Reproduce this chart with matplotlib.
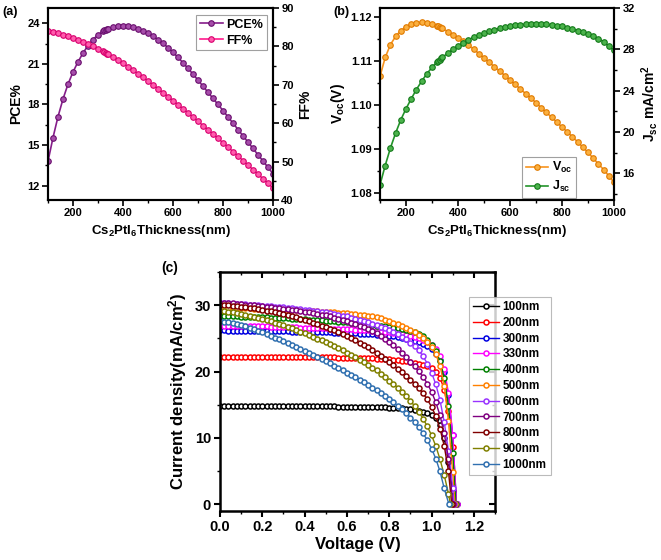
import numpy as np
import matplotlib
matplotlib.use("Agg")
import matplotlib.pyplot as plt
from matplotlib.ticker import MultipleLocator

plt.rcParams['font.family'] = ['Liberation Sans', 'DejaVu Sans']
plt.rcParams['font.weight'] = 'bold'
plt.rcParams['axes.labelweight'] = 'bold'
plt.rcParams['mathtext.fontset'] = 'custom'
plt.rcParams['mathtext.rm'] = 'Liberation Sans:bold'
plt.rcParams['mathtext.bf'] = 'Liberation Sans:bold'
plt.rcParams['mathtext.it'] = 'Liberation Sans:bold'

# ---------------- data: panels (a) and (b) ----------------
thickness = list(range(100, 321, 20)) + [325, 330, 335] + list(range(340, 1001, 20))

pce = [13.80, 15.55, 17.10, 18.40, 19.50, 20.40, 21.15, 21.80, 22.35, 22.80, 23.15, 23.42,
       23.47, 23.52, 23.56,
       23.60, 23.72, 23.80, 23.82, 23.79, 23.72, 23.60, 23.45, 23.27, 23.05, 22.80, 22.52,
       22.20, 21.85, 21.48, 21.08, 20.67, 20.24, 19.80, 19.35, 18.90, 18.45, 18.00, 17.55,
       17.08, 16.62, 16.15, 15.68, 15.22, 14.75, 14.28, 13.82, 13.35, 12.88]

ff = [84.05, 83.75, 83.43, 83.08, 82.70, 82.30, 81.78, 81.22, 80.64, 80.04, 79.40, 78.70,
      78.52, 78.33, 78.15,
      77.96, 77.20, 76.42, 75.60, 74.72, 73.82, 72.90, 71.96, 71.00, 70.00, 68.99, 67.97,
      66.94, 65.90, 64.84, 63.77, 62.69, 61.60, 60.50, 59.40, 58.29, 57.17, 56.04, 54.90,
      53.76, 52.61, 51.45, 50.28, 49.10, 47.92, 46.73, 45.53, 44.32, 43.10]

voc = [1.1065, 1.1108, 1.1137, 1.1156, 1.1169, 1.1178, 1.1184, 1.1187, 1.1188, 1.1187, 1.1184, 1.1180,
       1.1179, 1.1177, 1.1176,
       1.1174, 1.1167, 1.1160, 1.1153, 1.1145, 1.1136, 1.1127, 1.1117, 1.1107, 1.1097, 1.1087, 1.1077,
       1.1067, 1.1057, 1.1047, 1.1036, 1.1026, 1.1016, 1.1005, 1.0994, 1.0983, 1.0972, 1.0961, 1.0950,
       1.0939, 1.0928, 1.0916, 1.0904, 1.0892, 1.0879, 1.0866, 1.0853, 1.0839, 1.0824]

jsc = [14.87, 16.74, 18.43, 19.88, 21.17, 22.24, 23.20, 24.10, 24.90, 25.62, 26.25, 26.78,
       26.90, 27.01, 27.11,
       27.21, 27.62, 28.00, 28.34, 28.65, 28.92, 29.17, 29.39, 29.58, 29.75, 29.90, 30.03,
       30.14, 30.24, 30.32, 30.38, 30.42, 30.45, 30.46, 30.45, 30.42, 30.37, 30.30, 30.21,
       30.10, 29.97, 29.82, 29.65, 29.46, 29.24, 29.00, 28.74, 28.30, 27.90]

# ---------------- data: panel (c) J-V curves ----------------
jv_labels = ['100nm', '200nm', '300nm', '330nm', '400nm', '500nm',
             '600nm', '700nm', '800nm', '900nm', '1000nm']
jv_colors = ['#000000', '#FF0000', '#0000E0', '#FF00FF', '#008000', '#FF8000',
             '#9933FF', '#800080', '#800000', '#808000', '#3070B0']
jv_voc = [1.1065, 1.118, 1.1183, 1.118, 1.1155, 1.1107, 1.1058, 1.1006, 1.0952, 1.0895, 1.0823]

# current density at V = 0.00, 0.02, 0.04, ... (last point of each curve is J = 0 at its Voc)
j_100 = [14.85, 14.85, 14.85, 14.84, 14.84, 14.84, 14.84, 14.83, 14.83, 14.83, 14.82, 14.82, 14.82,
         14.81, 14.81, 14.81, 14.80, 14.80, 14.80, 14.79, 14.79, 14.78, 14.78, 14.77, 14.77, 14.76,
         14.76, 14.75, 14.74, 14.74, 14.73, 14.72, 14.71, 14.70, 14.69, 14.68, 14.66, 14.65, 14.63,
         14.61, 14.58, 14.55, 14.51, 14.47, 14.41, 14.34, 14.25, 14.13, 13.97, 13.75, 13.45, 12.95,
         12.00, 10.00, 6.40, 2.00]
j_200 = [22.25, 22.25, 22.25, 22.25, 22.24, 22.24, 22.24, 22.24, 22.23, 22.23, 22.23, 22.23, 22.22,
         22.22, 22.22, 22.21, 22.21, 22.20, 22.20, 22.19, 22.19, 22.18, 22.17, 22.17, 22.16, 22.15,
         22.14, 22.13, 22.12, 22.11, 22.10, 22.08, 22.07, 22.05, 22.03, 22.01, 21.98, 21.95, 21.92,
         21.88, 21.84, 21.79, 21.73, 21.66, 21.58, 21.48, 21.36, 21.21, 21.03, 20.80, 20.50, 20.00,
         19.10, 17.30, 14.00, 8.60]
j_300 = [26.20, 26.19, 26.18, 26.17, 26.16, 26.15, 26.14, 26.13, 26.12, 26.11, 26.10, 26.09, 26.08,
         26.07, 26.06, 26.05, 26.04, 26.03, 26.02, 26.00, 25.99, 25.98, 25.96, 25.95, 25.93, 25.92,
         25.90, 25.88, 25.86, 25.84, 25.82, 25.79, 25.76, 25.73, 25.70, 25.66, 25.62, 25.57, 25.52,
         25.46, 25.39, 25.31, 25.22, 25.11, 24.98, 24.83, 24.65, 24.43, 24.16, 23.82, 23.35, 22.70,
         21.70, 19.90, 16.50, 10.40]
j_330 = [26.95, 26.94, 26.93, 26.92, 26.91, 26.90, 26.88, 26.87, 26.85, 26.84, 26.82, 26.80, 26.78,
         26.76, 26.74, 26.72, 26.70, 26.68, 26.66, 26.64, 26.62, 26.60, 26.58, 26.55, 26.53, 26.50,
         26.48, 26.45, 26.43, 26.40, 26.37, 26.34, 26.31, 26.27, 26.23, 26.19, 26.14, 26.09, 26.03,
         25.97, 25.90, 25.82, 25.73, 25.63, 25.51, 25.37, 25.20, 24.99, 24.74, 24.43, 24.05, 23.40,
         22.30, 20.40, 16.80, 10.50]
j_400 = [28.35, 28.34, 28.33, 28.31, 28.30, 28.28, 28.26, 28.24, 28.22, 28.20, 28.18, 28.15, 28.13,
         28.10, 28.07, 28.04, 28.01, 27.98, 27.94, 27.91, 27.87, 27.83, 27.79, 27.75, 27.70, 27.65,
         27.60, 27.55, 27.50, 27.45, 27.40, 27.34, 27.28, 27.22, 27.15, 27.08, 27.01, 26.94, 26.87,
         26.80, 26.72, 26.63, 26.53, 26.42, 26.30, 26.15, 25.95, 25.70, 25.30, 24.75, 24.05, 23.10,
         21.60, 19.10, 14.80, 7.80]
j_500 = [29.65, 29.63, 29.61, 29.59, 29.57, 29.55, 29.53, 29.51, 29.49, 29.47, 29.45, 29.43, 29.41,
         29.38, 29.36, 29.33, 29.30, 29.27, 29.24, 29.21, 29.18, 29.15, 29.12, 29.08, 29.04, 29.00,
         28.96, 28.92, 28.88, 28.83, 28.78, 28.72, 28.65, 28.58, 28.50, 28.42, 28.30, 28.17, 28.02,
         27.82, 27.60, 27.36, 27.10, 26.84, 26.58, 26.30, 25.95, 25.57, 25.10, 24.50, 23.70, 22.60,
         20.90, 17.90, 12.50, 4.80]
j_600 = [30.35, 30.32, 30.28, 30.24, 30.20, 30.16, 30.12, 30.08, 30.04, 30.00, 29.95, 29.90, 29.85,
         29.79, 29.73, 29.67, 29.61, 29.55, 29.49, 29.42, 29.35, 29.27, 29.18, 29.09, 29.00, 28.90,
         28.79, 28.68, 28.56, 28.43, 28.30, 28.14, 27.97, 27.79, 27.60, 27.40, 27.19, 26.97, 26.74,
         26.51, 26.27, 25.98, 25.65, 25.28, 24.86, 24.38, 23.83, 23.20, 22.30, 21.20, 19.85, 18.10,
         15.70, 12.40, 8.10, 2.50]
j_700 = [30.40, 30.36, 30.31, 30.26, 30.21, 30.15, 30.09, 30.03, 29.97, 29.91, 29.85, 29.78, 29.71,
         29.64, 29.57, 29.50, 29.42, 29.33, 29.24, 29.15, 29.05, 28.94, 28.82, 28.70, 28.58, 28.45,
         28.30, 28.14, 27.97, 27.79, 27.60, 27.39, 27.17, 26.93, 26.67, 26.39, 26.08, 25.74, 25.37,
         24.96, 24.50, 23.98, 23.41, 22.80, 22.16, 21.48, 20.77, 20.03, 19.20, 18.20, 16.95, 15.40,
         13.40, 10.70, 6.90]
j_800 = [30.10, 30.05, 30.00, 29.94, 29.87, 29.80, 29.72, 29.63, 29.54, 29.43, 29.32, 29.20, 29.07,
         28.94, 28.80, 28.65, 28.50, 28.34, 28.17, 27.99, 27.80, 27.60, 27.39, 27.17, 26.94, 26.70,
         26.45, 26.19, 25.92, 25.64, 25.35, 25.04, 24.72, 24.38, 24.02, 23.64, 23.24, 22.82, 22.38,
         21.92, 21.44, 20.93, 20.39, 19.95, 19.40, 18.80, 18.20, 17.50, 16.70, 15.80, 14.70, 13.30,
         11.40, 8.80, 5.00]
j_900 = [29.20, 29.12, 29.03, 28.93, 28.82, 28.70, 28.57, 28.43, 28.28, 28.12, 27.95, 27.77, 27.58,
         27.38, 27.17, 26.95, 26.73, 26.50, 26.26, 26.02, 25.77, 25.51, 25.25, 24.98, 24.70, 24.42,
         24.13, 23.83, 23.52, 23.20, 22.87, 22.53, 22.18, 21.81, 21.43, 21.03, 20.61, 20.17, 19.70,
         19.20, 18.60, 18.12, 17.60, 17.00, 16.30, 15.60, 14.80, 13.90, 12.90, 11.75, 10.40, 8.80,
         6.80, 4.40, 1.60]
j_1000 = [27.60, 27.50, 27.40, 27.28, 27.14, 26.98, 26.80, 26.60, 26.38, 26.14, 25.90, 25.64, 25.38,
          25.11, 24.84, 24.56, 24.28, 24.00, 23.71, 23.42, 23.12, 22.82, 22.51, 22.20, 21.88, 21.56,
          21.23, 20.90, 20.56, 20.21, 19.86, 19.50, 19.13, 18.75, 18.36, 17.96, 17.60, 17.22, 16.82,
          16.38, 15.90, 15.38, 14.85, 14.30, 13.72, 13.08, 12.38, 11.60, 10.70, 9.65, 8.40, 6.90,
          4.95, 2.40]
jv_currents = [j_100, j_200, j_300, j_330, j_400, j_500, j_600, j_700, j_800, j_900, j_1000]
v_step = 0.02

# ---------------- figure ----------------
W, H = 661, 560
fig = plt.figure(figsize=(W / 100, H / 100), dpi=100)


def fbox(x0, y0, x1, y1):
    return [x0 / W, 1 - y1 / H, (x1 - x0) / W, (y1 - y0) / H]


def style_ticks(ax, size=8):
    ax.tick_params(which='major', length=4, width=1.2, labelsize=size, pad=2)
    ax.tick_params(which='minor', length=2.5, width=1.0)
    for lab in ax.get_xticklabels() + ax.get_yticklabels():
        lab.set_fontweight('bold')
    for s in ax.spines.values():
        s.set_linewidth(1.5)


xlabel_ab = r'$\mathbf{Cs_2PtI_6Thickness(nm)}$'

# ---- (a) ----
axa = fig.add_axes(fbox(48, 8, 273, 200))
axa2 = axa.twinx()
c_pce, c_ff = '#851D8A', '#FF1A8C'
l1, = axa.plot(thickness, pce, '-o', color=c_pce, lw=1.2, ms=4, mfc='#A64DAA', mec='#6A0F6E', mew=0.8,
               label='PCE%')
l2, = axa2.plot(thickness, ff, '-o', color=c_ff, lw=1.2, ms=4, mfc='#FF5CAD', mec='#D8006E', mew=0.8,
                label='FF%')
axa.set_xlim(100, 1000)
axa.set_ylim(10.94, 25.13)
axa2.set_ylim(40, 90)
axa.xaxis.set_major_locator(MultipleLocator(200))
axa.xaxis.set_minor_locator(MultipleLocator(100))
axa.yaxis.set_major_locator(MultipleLocator(3))
axa.yaxis.set_minor_locator(MultipleLocator(1.5))
axa2.yaxis.set_major_locator(MultipleLocator(10))
axa2.yaxis.set_minor_locator(MultipleLocator(5))
axa.set_ylabel('PCE%', fontsize=10, labelpad=3)
axa2.set_ylabel('FF%', fontsize=10, labelpad=3)
axa.set_xlabel(xlabel_ab, fontsize=9.5, labelpad=3)
for a in (axa, axa2):
    style_ticks(a)
    a.tick_params(direction='out')
leg = axa.legend([l1, l2], ['PCE%', 'FF%'], loc='upper right', bbox_to_anchor=(267 / W, 1 - 15 / H),
                 bbox_transform=fig.transFigure, borderaxespad=0, fancybox=False, edgecolor='#888888',
                 prop={'weight': 'bold', 'size': 9}, handlelength=1.8, handletextpad=0.3,
                 labelspacing=0.3, borderpad=0.3, numpoints=1)
leg.get_frame().set_linewidth(0.8)
fig.text(2 / W, 1 - 12 / H, '(a)', fontsize=9, fontweight='bold', va='center', ha='left')

# ---- (b) ----
axb = fig.add_axes(fbox(380, 8, 614, 200))
axb2 = axb.twinx()
c_voc, c_jsc = '#F7931E', '#23932A'
l3, = axb.plot(thickness, voc, '-o', color=c_voc, lw=1.2, ms=4, mfc='#FBB040', mec='#E07A00', mew=0.8)
l4, = axb2.plot(thickness, jsc, '-o', color=c_jsc, lw=1.2, ms=4, mfc='#4CB34C', mec='#137A1A', mew=0.8)
axb.set_xlim(100, 1000)
axb.set_ylim(1.0784, 1.12205)
axb2.set_ylim(13.4, 32)
axb.xaxis.set_major_locator(MultipleLocator(200))
axb.xaxis.set_minor_locator(MultipleLocator(100))
axb.yaxis.set_major_locator(MultipleLocator(0.01))
axb.yaxis.set_minor_locator(MultipleLocator(0.005))
axb2.yaxis.set_major_locator(MultipleLocator(4))
axb2.yaxis.set_minor_locator(MultipleLocator(2))
axb.yaxis.set_major_formatter(matplotlib.ticker.FormatStrFormatter('%.2f'))
axb.set_ylabel(r'$\mathbf{V_{oc}(V)}$', fontsize=10, labelpad=2)
axb2.set_ylabel(r'$\mathbf{J_{sc}\ mA/cm^2}$', fontsize=10, labelpad=3)
axb.set_xlabel(xlabel_ab, fontsize=9.5, labelpad=3)
for a in (axb, axb2):
    style_ticks(a)
    a.tick_params(direction='out')
leg = axb.legend([l3, l4], [r'$\mathbf{V_{oc}}$', r'$\mathbf{J_{sc}}$'], loc='lower right',
                 bbox_to_anchor=(576 / W, 1 - 198 / H), bbox_transform=fig.transFigure, borderaxespad=0,
                 fancybox=False, edgecolor='#888888', prop={'weight': 'bold', 'size': 9},
                 handlelength=1.8, handletextpad=0.3, labelspacing=0.3, borderpad=0.3, numpoints=1)
leg.get_frame().set_linewidth(0.8)
fig.text(333 / W, 1 - 12 / H, '(b)', fontsize=9, fontweight='bold', va='center', ha='left')

# ---- (c) ----
axc = fig.add_axes(fbox(220, 272, 495, 511))
handles = []
for lab, col, vc, cur in zip(jv_labels, jv_colors, jv_voc, jv_currents):
    vv = [round(i * v_step, 2) for i in range(len(cur))] + [vc]
    jj = list(cur) + [0.0]
    h, = axc.plot(vv, jj, '-o', color=col, lw=1.0, ms=3.6, mfc='white', mec=col, mew=1.1, label=lab)
    handles.append(h)
axc.set_xlim(0, 1.3)
axc.set_ylim(-1.0, 35)
axc.xaxis.set_major_locator(MultipleLocator(0.2))
axc.xaxis.set_minor_locator(MultipleLocator(0.1))
axc.yaxis.set_major_locator(MultipleLocator(10))
axc.yaxis.set_minor_locator(MultipleLocator(5))
axc.xaxis.set_major_formatter(matplotlib.ticker.FormatStrFormatter('%.1f'))
style_ticks(axc, size=10.5)
for s in axc.spines.values():
    s.set_linewidth(1.8)
axc.tick_params(which='both', top=True, right=True)
axc.tick_params(which='major', length=4.5, width=1.5)
axc.tick_params(axis='x', which='both', top=True, direction='out')
axc.tick_params(axis='y', which='both', direction='out')
axc.tick_params(which='both', labeltop=False, labelright=False)
# top and right mirrored ticks point inward
axc.xaxis.set_tick_params(which='both', direction='out')
for t in axc.xaxis.get_major_ticks() + axc.xaxis.get_minor_ticks():
    t.tick2line.set_marker(3)
for t in axc.yaxis.get_major_ticks() + axc.yaxis.get_minor_ticks():
    t.tick2line.set_marker(0)
axc.set_xlabel('Voltage (V)', fontsize=12, labelpad=2)
axc.set_ylabel(r'Current density(mA/cm$^\mathbf{2}$)', fontsize=12, labelpad=4)
leg = axc.legend(handles=handles, loc='upper left', bbox_to_anchor=(469 / W, 1 - 297 / H),
                 bbox_transform=fig.transFigure, borderaxespad=0, fancybox=False, edgecolor='#AAAAAA',
                 prop={'weight': 'bold', 'size': 8.5}, handlelength=2.2, handletextpad=0.3,
                 labelspacing=0.32, borderpad=0.35, numpoints=1)
leg.get_frame().set_linewidth(0.8)
fig.text(170 / W, 1 - 268 / H, '(c)', fontsize=10, fontweight='bold', va='center', ha='center')

fig.savefig('out.png', dpi=100)
